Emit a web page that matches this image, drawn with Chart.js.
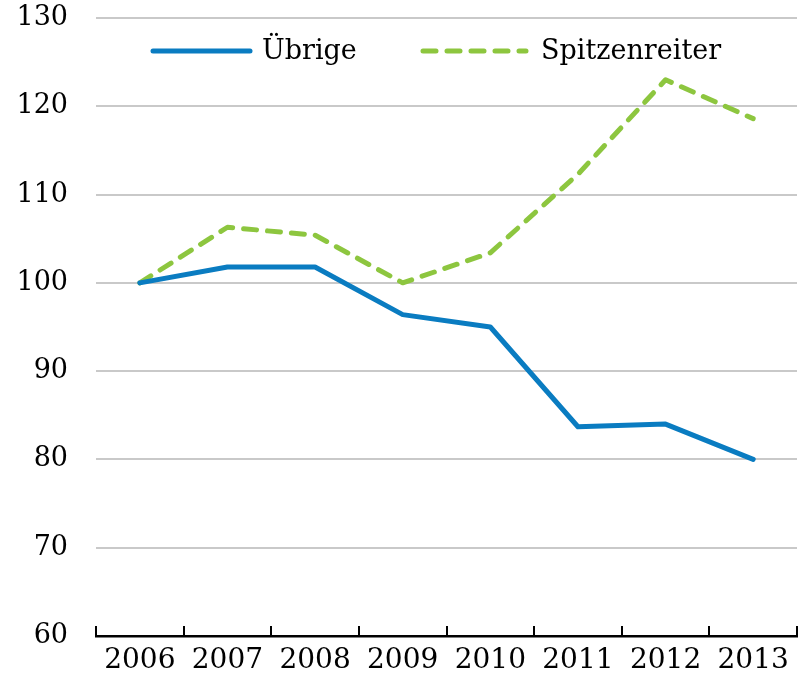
<!DOCTYPE html>
<html>
<head>
<meta charset="utf-8">
<script src="https://cdn.jsdelivr.net/npm/chart.js@4"></script>
<style>
  html, body { margin: 0; padding: 0; background: #fff; }
  #wrap { width: 798px; height: 674px; }
</style>
</head>
<body>
<div id="wrap"><canvas id="chart" width="798" height="674"></canvas></div>
<script>
const years = ['2006', '2007', '2008', '2009', '2010', '2011', '2012', '2013'];
const uebrige = [100, 101.8, 101.8, 96.4, 95.0, 83.7, 84.0, 80.0];
const spitzenreiter = [100, 106.3, 105.4, 100, 103.4, 112.3, 123.0, 118.6];
const yTicks = [60, 70, 80, 90, 100, 110, 120, 130];

const FONT = '"DejaVu Serif", "Liberation Serif", serif';

// legend drawn inside the plot, between the 130 and 120 lines
const innerLegend = {
	id: 'innerLegend',
	afterDraw(chart) {
		const ctx = chart.ctx;
		const area = chart.chartArea;
		const y = area.top + 33;
		const spots = [
			{ x1: area.left + 57, x2: area.left + 154, tx: area.left + 166 },
			{ x1: area.left + 327, x2: area.left + 430, tx: area.left + 445 }
		];
		chart.data.datasets.forEach(function(ds, i) {
			const s = spots[i];
			ctx.save();
			ctx.strokeStyle = ds.borderColor;
			ctx.lineWidth = ds.borderWidth;
			ctx.lineCap = 'round';
			ctx.setLineDash(ds.borderDash || []);
			ctx.beginPath();
			ctx.moveTo(s.x1, y);
			ctx.lineTo(s.x2, y);
			ctx.stroke();
			ctx.setLineDash([]);
			ctx.fillStyle = '#000';
			ctx.font = '27px ' + FONT;
			ctx.textBaseline = 'middle';
			ctx.fillText(ds.label, s.tx, y + 1);
			ctx.restore();
		});
	}
};

// category ticks pointing up from the x axis
const upTicks = {
	id: 'upTicks',
	afterDraw(chart) {
		const xs = chart.scales.x;
		const ctx = chart.ctx;
		const n = chart.data.labels.length;
		const bottom = chart.chartArea.bottom;
		ctx.save();
		ctx.strokeStyle = '#000';
		ctx.lineWidth = 2;
		for (let i = 0; i <= n; i++) {
			const x = Math.round(xs.left + i * xs.width / n);
			ctx.beginPath();
			ctx.moveTo(x, bottom - 10);
			ctx.lineTo(x, bottom);
			ctx.stroke();
		}
		ctx.restore();
	}
};

new Chart(document.getElementById('chart').getContext('2d'), {
	type: 'line',
	data: {
		labels: years,
		datasets: [{
			label: 'Übrige',
			data: uebrige,
			borderColor: '#0a7cc1',
			borderWidth: 5,
			pointRadius: 0,
			tension: 0,
			borderJoinStyle: 'round',
			borderCapStyle: 'round'
		}, {
			label: 'Spitzenreiter',
			data: spitzenreiter,
			borderColor: '#8dc63f',
			borderWidth: 5,
			borderDash: [13, 11],
			pointRadius: 0,
			tension: 0,
			borderJoinStyle: 'round',
			borderCapStyle: 'round'
		}]
	},
	options: {
		responsive: false,
		animation: false,
		layout: { padding: { top: 18, left: 18, right: 1, bottom: 0 } },
		plugins: {
			legend: { display: false },
			tooltip: { enabled: false }
		},
		scales: {
			x: {
				offset: true,
				grid: { display: false, offset: true, drawTicks: false },
				border: { display: true, color: '#000', width: 2.5 },
				afterFit(scale) {
					scale.height = 38;
				},
				ticks: {
					color: '#000',
					padding: 8,
					font: { family: FONT, size: 28 },
					maxRotation: 0,
					autoSkip: false
				}
			},
			y: {
				min: 60,
				max: 130,
				afterBuildTicks(scale) {
					scale.ticks = yTicks.map(v => ({ value: v }));
				},
				afterFit(scale) {
					scale.width = 78;
					scale.paddingTop = 0;
					scale.paddingBottom = 0;
				},
				grid: { color: '#c9c9c9', lineWidth: 2, drawTicks: false },
				border: { display: false },
				ticks: {
					color: '#000',
					padding: 28,
					font: { family: FONT, size: 27 }
				}
			}
		}
	},
	plugins: [innerLegend, upTicks]
});
</script>
</body>
</html>
